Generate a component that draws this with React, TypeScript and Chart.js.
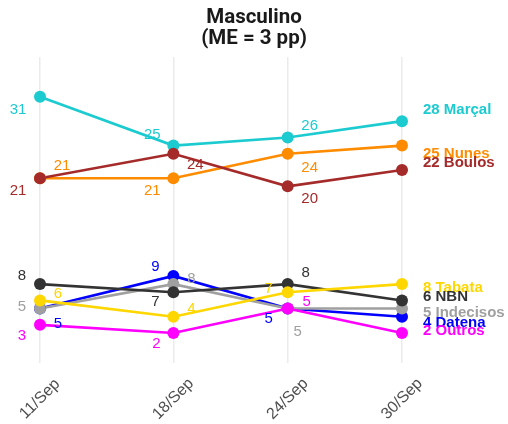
import React, { useEffect, useRef } from 'react';
import { Chart, registerables } from 'chart.js';

Chart.register(...registerables);

// ---- data ----
const titleLines = ['Masculino', '(ME = 3 pp)'];
const dayLabels = ['11/Sep', '18/Sep', '24/Sep', '30/Sep'];
const days = [11, 18, 24, 30];

const seriesNames = ['Marçal', 'Nunes', 'Boulos', 'Datena', 'Indecisos', 'NBN', 'Tabata', 'Outros'];
const marcal = [31, 25, 26, 28];
const nunes = [21, 21, 24, 25];
const boulos = [21, 24, 20, 22];
const datena = [5, 9, 5, 4];
const indecisos = [5, 8, 5, 5];
const nbn = [8, 7, 8, 6];
const tabata = [6, 4, 7, 8];
const outros = [3, 2, 5, 2];
const seriesValues = [marcal, nunes, boulos, datena, indecisos, nbn, tabata, outros];

// ---- styles ----
const seriesColors = ['#1ccbd0', '#ff8c00', '#a52a2a', '#0000ff', '#a0a0a0', '#333333', '#ffd700', '#ff00ff'];
// label offsets (repel-like placement) for first three points, [dx, dy]
const labelOffsets = [
  [[-22, 13], [-21, -11], [22, -12]],
  [[22, -12], [-21, 13], [22, 14]],
  [[-22, 13], [22, 11], [22, 13]],
  [[18, 15], [-18, -9], [-19, 10]],
  [[-18, -2], [18, -5], [10, 23]],
  [[-18, -8], [-18, 10], [18, -11]],
  [[18, -7], [18, -8], [-19, -3]],
  [[-18, 11], [-17, 11], [19, -7]],
];
const endLabelDy = [-11, 8, -7, 6, 4, -4, 4, -2];
const textOrder = [0, 1, 2, 6, 4, 5, 3, 7];

const labelPlugin = {
  id: 'customLabels',
  afterDraw(chart: any) {
    const { ctx, chartArea, width } = chart;
    const xs = chart.scales.x;
    const ys = chart.scales.y;
    ctx.save();
    // title
    ctx.fillStyle = '#1a1a1a';
    ctx.font = 'bold 20.5px Roboto, "Liberation Sans", sans-serif';
    ctx.textAlign = 'center';
    ctx.textBaseline = 'alphabetic';
    ctx.fillText(titleLines[0], width / 2, 23);
    ctx.fillText(titleLines[1], width / 2, 44);
    // data labels
    textOrder.forEach((si) => {
      const vals = seriesValues[si];
      ctx.fillStyle = seriesColors[si];
      ctx.textBaseline = 'middle';
      ctx.font = '15px "Liberation Sans", Arial, sans-serif';
      ctx.textAlign = 'center';
      for (let i = 0; i < vals.length - 1; i++) {
        const px = xs.getPixelForValue(days[i]);
        const py = ys.getPixelForValue(vals[i]);
        const [dx, dy] = labelOffsets[si][i];
        ctx.fillText(String(vals[i]), px + dx, py + dy);
      }
      const last = vals.length - 1;
      const lx = xs.getPixelForValue(days[last]);
      const ly = ys.getPixelForValue(vals[last]);
      ctx.font = 'bold 15px "Liberation Sans", Arial, sans-serif';
      ctx.textAlign = 'left';
      ctx.fillText(vals[last] + ' ' + seriesNames[si], lx + 21, ly + endLabelDy[si]);
    });
    // x axis labels
    ctx.fillStyle = '#4d4d4d';
    ctx.font = '16px "Liberation Sans", Arial, sans-serif';
    ctx.textAlign = 'center';
    ctx.textBaseline = 'middle';
    days.forEach((d, i) => {
      const px = xs.getPixelForValue(d);
      ctx.save();
      ctx.translate(px, chartArea.bottom + 36);
      ctx.rotate(-Math.PI / 4);
      ctx.fillText(dayLabels[i], 0, 0);
      ctx.restore();
    });
    ctx.restore();
  },
};

export default function App() {
  const canvasRef = useRef<HTMLCanvasElement | null>(null);

  useEffect(() => {
    if (!canvasRef.current) return;
    const n = seriesNames.length;
    const lineSets = seriesValues.map((vals, si) => ({
      label: seriesNames[si] + ' line',
      data: vals.map((v, i) => ({ x: days[i], y: v })),
      borderColor: seriesColors[si],
      backgroundColor: seriesColors[si],
      borderWidth: 2.6,
      pointRadius: 0,
      tension: 0,
      clip: false as any,
      order: 100 + (n - si),
    }));
    const pointSets = seriesValues.map((vals, si) => ({
      label: seriesNames[si],
      data: vals.map((v, i) => ({ x: days[i], y: v })),
      borderColor: seriesColors[si],
      backgroundColor: seriesColors[si],
      pointBackgroundColor: seriesColors[si],
      pointBorderWidth: 0,
      pointRadius: 6,
      showLine: false,
      clip: false as any,
      order: n - si,
    }));
    const chart = new Chart(canvasRef.current, {
      type: 'line',
      data: { datasets: [...lineSets, ...pointSets] as any },
      options: {
        animation: false,
        responsive: true,
        maintainAspectRatio: false,
        events: [],
        layout: { padding: { left: 40, right: 106, top: 57, bottom: 61 } },
        plugins: {
          legend: { display: false },
          tooltip: { enabled: false },
          title: { display: false },
        },
        scales: {
          x: {
            type: 'linear',
            min: 11,
            max: 30,
            afterBuildTicks: (s: any) => {
              s.ticks = days.map((v) => ({ value: v }));
            },
            ticks: { display: false },
            grid: { color: '#ebebeb', lineWidth: 1.5, drawTicks: false },
            border: { display: false },
          },
          y: { display: false, min: -1.68, max: 35.87 },
        },
      } as any,
      plugins: [labelPlugin],
    });
    return () => chart.destroy();
  }, []);

  return (
    <div style={{ position: 'fixed', left: 0, top: 0, width: 508, height: 424, background: '#ffffff' }}>
      <canvas ref={canvasRef} />
    </div>
  );
}
